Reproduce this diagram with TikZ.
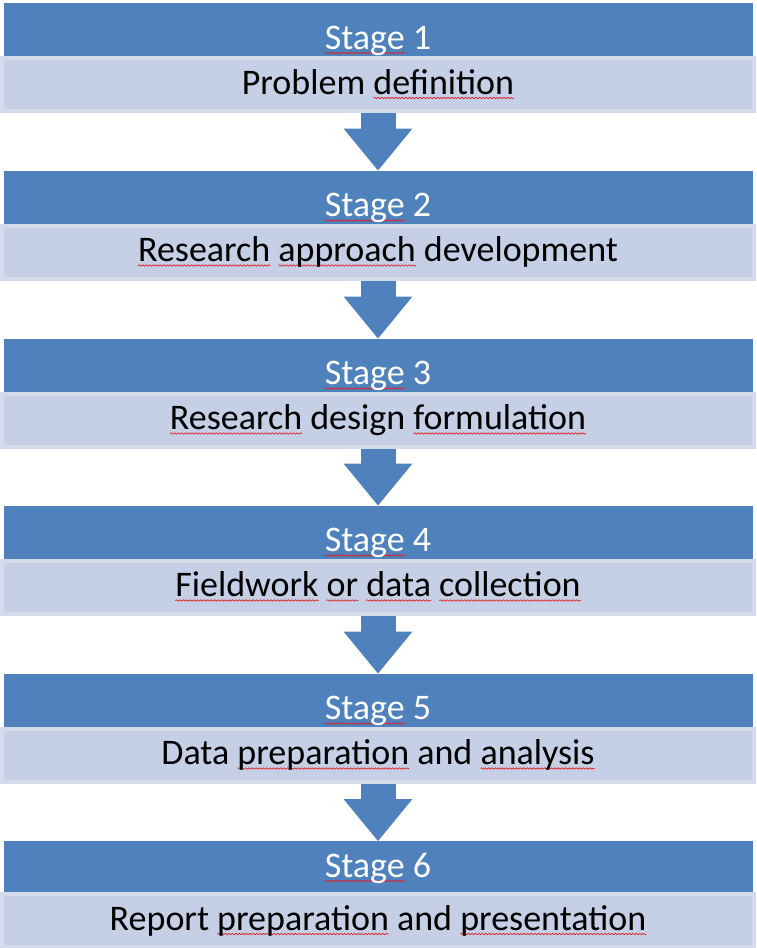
\documentclass[tikz,border=0pt]{standalone}
\usepackage{fontspec}
\setmainfont{Carlito}
\usepackage{tikz}
\usetikzlibrary{arrows.meta}
\usetikzlibrary{decorations.pathmorphing}
\usepackage{xcolor}

\definecolor{hdblue}{HTML}{4F81BD}
\definecolor{barfill}{HTML}{C5D0E6}
\definecolor{barline}{HTML}{D4DCEC}
\definecolor{spellred}{HTML}{E02020}

% red wavy underline of the spell checker
\newsavebox{\spellbox}
\newcommand{\spell}[1]{\sbox{\spellbox}{#1}%
  \rlap{\tikz[overlay, baseline=0pt]{%
    \draw[spellred, line width=0.7pt, decorate,
          decoration={snake, amplitude=0.7pt, segment length=3.5pt}]
          (0pt,-4pt) -- (\wd\spellbox,-4pt);}}%
  \usebox{\spellbox}}

\begin{document}
\begin{tikzpicture}[
    x=1pt, y=-1pt,
    font=\fontsize{36}{42}\selectfont,
    head/.style={rectangle, fill=hdblue, text=white, inner sep=0pt, outer sep=0pt,
                 minimum width=749pt, text height=46pt, text depth=7pt},
    bar/.style={rectangle, fill=barfill, draw=barline, line width=4pt, text=black,
                inner sep=0pt, outer sep=2pt, minimum width=752pt,
                text height=36pt, text depth=17pt},
    flow/.style={hdblue, line width=35pt,
                 -{Triangle[width=69pt, length=42pt, line width=0pt]}}
]
    \useasboundingbox (0,0) rectangle (756,948);

    % Stage 1
    \node[head] (head1) at (378,29.5) {\spell{Stage} 1};
    \node[bar] (bar1) at (378,84.5) {Problem \spell{definition}};

    % Stage 2
    \node[head] (head2) at (378,197) {\spell{Stage} 2};
    \node[bar] (bar2) at (378,252) {\spell{Research} \spell{approach} development};

    % Stage 3
    \node[head] (head3) at (378,365) {\spell{Stage} 3};
    \node[bar] (bar3) at (378,420) {\spell{Research} design \spell{formulation}};

    % Stage 4
    \node[head] (head4) at (378,532) {\spell{Stage} 4};
    \node[bar] (bar4) at (378,587) {\spell{Fieldwork} \spell{or} \spell{data} \spell{collection}};

    % Stage 5
    \node[head] (head5) at (378,700) {\spell{Stage} 5};
    \node[bar] (bar5) at (378,755) {Data \spell{preparation} and \spell{analysis}};

    % Stage 6 (header a little lower)
    \node[head, text height=36pt, text depth=15pt] (head6) at (378,866.5) {\spell{Stage} 6};
    \node[bar] (bar6) at (378,920.5) {Report \spell{preparation} and \spell{presentation}};

    % Arrows between stages
    \draw[flow] (bar1.south) -- (head2.north);
    \draw[flow] (bar2.south) -- (head3.north);
    \draw[flow] (bar3.south) -- (head4.north);
    \draw[flow] (bar4.south) -- (head5.north);
    \draw[flow] (bar5.south) -- (head6.north);
\end{tikzpicture}
\end{document}
